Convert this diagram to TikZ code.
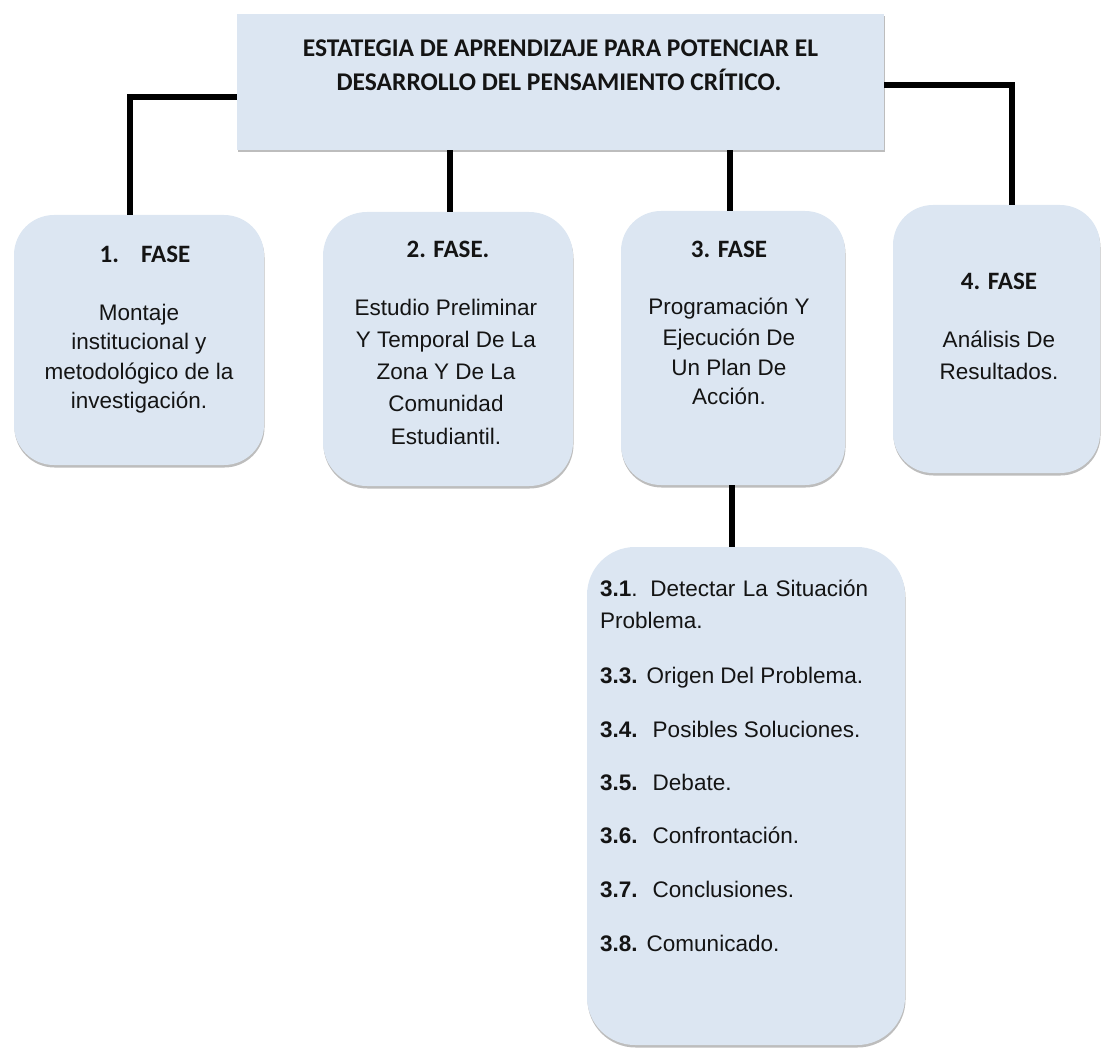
\documentclass[tikz,border=0pt]{standalone}
\usepackage{fontspec}
\setmainfont{Liberation Sans}
\newfontfamily\calib{Carlito}
\usetikzlibrary{shadows}
\definecolor{boxblue}{RGB}{220,230,242}
\begin{document}
\begin{tikzpicture}[x=1pt,y=-1pt,
  box/.style={fill=boxblue, rounded corners=40pt, inner sep=0pt,
    drop shadow={shadow xshift=0.5pt, shadow yshift=-2.5pt, opacity=0.4, fill=black!65}},
  conn/.style={line width=6.5pt, black},
  ttl/.style={font=\calib\bfseries\fontsize{25}{30}\selectfont, anchor=base, inner sep=0pt, text=black!92},
  txt/.style={font=\fontsize{22.5}{27}\selectfont, anchor=base, inner sep=0pt, text=black!92},
  itm/.style={font=\fontsize{22.5}{27}\selectfont, anchor=base west, inner sep=0pt, text=black!92}]
\useasboundingbox (0,0) rectangle (1102,1048);

% boxes
\node[box, rounded corners=0pt, minimum width=647pt, minimum height=136pt] (top) at (560.5,82) {};
\node[box, minimum width=250pt, minimum height=250pt] (b1) at (139,340) {};
\node[box, rounded corners=44pt, minimum width=250pt, minimum height=274pt] (b2) at (448,349) {};
\node[box, minimum width=224pt, minimum height=274pt] (b3) at (733,348) {};
\node[box, minimum width=207pt, minimum height=268pt] (b4) at (996.5,339) {};
\node[box, rounded corners=48pt, minimum width=318pt, minimum height=498pt] (b5) at (746,796) {};

% connectors
\draw[conn] ([yshift=-15pt]top.west) -| ([xshift=-9pt]b1.north);
\draw[conn] ([yshift=-3pt]top.east) -| ([xshift=15.5pt]b4.north);
\draw[conn] ([xshift=2pt]b2.north |- top.south) -- ([xshift=2pt]b2.north);
\draw[conn] ([xshift=-3pt]b3.north |- top.south) -- ([xshift=-3pt]b3.north);
\draw[conn] ([xshift=-1pt]b3.south) -- ([xshift=-1pt]b3.south |- b5.north);

% title
\node[ttl, font=\calib\bfseries\fontsize{25.5}{30}\selectfont] (t1) at (560.5,57) {ESTATEGIA DE APRENDIZAJE PARA POTENCIAR EL};
\node[ttl, font=\calib\bfseries\fontsize{25.5}{30}\selectfont] (t2) at (559,91) {DESARROLLO DEL PENSAMIENTO CRÍTICO.};

% phase 1
\node[ttl] (f1t) at (145,263) {1.\hspace{22pt}FASE};
\node[txt] (f1a) at (139,320) {Montaje};
\node[txt] (f1b) at (139,349.5) {institucional y};
\node[txt] (f1c) at (139,379) {metodológico de la};
\node[txt] (f1d) at (139,408) {investigación.};

% phase 2
\node[ttl] (f2t) at (448,258) {2. FASE.};
\node[txt] (f2a) at (446,316) {Estudio Preliminar};
\node[txt] (f2b) at (446,347) {Y Temporal De La};
\node[txt] (f2c) at (446,379) {Zona Y De La};
\node[txt] (f2d) at (446,411) {Comunidad};
\node[txt] (f2e) at (446,444) {Estudiantil.};

% phase 3
\node[ttl] (f3t) at (729,258) {3. FASE};
\node[txt] (f3a) at (729,315) {Programación Y};
\node[txt] (f3b) at (729,345) {Ejecución De};
\node[txt] (f3c) at (729,375) {Un Plan De};
\node[txt] (f3d) at (729,404) {Acción.};

% phase 4
\node[ttl] (f4t) at (999,290) {4. FASE};
\node[txt] (f4a) at (999,347) {Análisis De};
\node[txt] (f4b) at (999,379) {Resultados.};

% sub steps
\node[itm] (s1) at (600,596) {\makebox[268pt][s]{\textbf{3.1}. Detectar La Situación}};
\node[itm] (s1b) at (600,628) {Problema.};
\node[itm] (s3) at (600,683) {\textbf{3.3.}\hspace{9pt}Origen Del Problema.};
\node[itm] (s4) at (600,737) {\textbf{3.4.}\hspace{15pt}Posibles Soluciones.};
\node[itm] (s5) at (600,790) {\textbf{3.5.}\hspace{15pt}Debate.};
\node[itm] (s6) at (600,843) {\textbf{3.6.}\hspace{15pt}Confrontación.};
\node[itm] (s7) at (600,897) {\textbf{3.7.}\hspace{15pt}Conclusiones.};
\node[itm] (s8) at (600,951) {\textbf{3.8.}\hspace{9pt}Comunicado.};
\end{tikzpicture}
\end{document}
